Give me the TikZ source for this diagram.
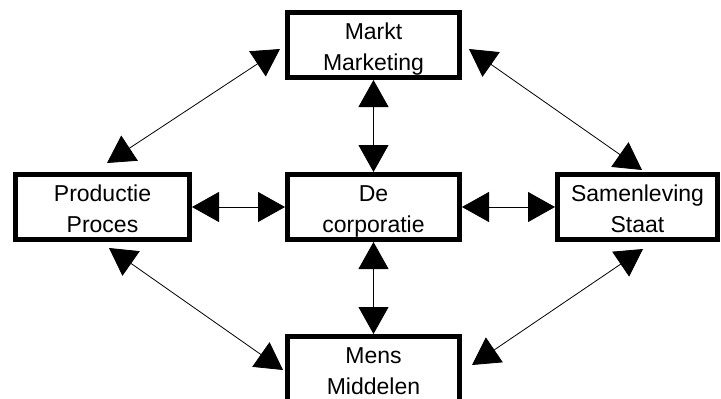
\documentclass[tikz,border=0pt]{standalone}
\usepackage{fontspec}
\setmainfont{Liberation Sans}
\usetikzlibrary{arrows.meta}

\begin{document}
\begin{tikzpicture}[x=1pt,y=-1pt,
  box/.style={draw=black,line width=5pt,fill=white,minimum width=172pt,minimum height=65pt,inner sep=0pt,align=center,font=\fontsize{23}{31}\selectfont,text height=51pt,text depth=0pt},
  link/.style={line width=0.8pt,{Triangle[length=27pt,width=30pt]}-{Triangle[length=27pt,width=30pt]}}]
\useasboundingbox (0,0) rectangle (721,399);
\clip (0,0) rectangle (721,399);
% the five boxes
\node[box] (markt) at (373.5,45) {Markt\\Marketing};
\node[box,minimum width=174pt] (productie) at (102.5,207) {Productie\\Proces};
\node[box] (corporatie) at (373.5,207) {De\\corporatie};
\node[box,minimum width=160pt] (samenleving) at (637.5,207) {Samenleving\\Staat};
\node[box] (mens) at (373.5,369) {Mens\\Middelen};
% straight links
\draw[link] (markt.south) -- (corporatie.north);
\draw[link] (corporatie.south) -- (mens.north);
\draw[link] (productie.east) -- (corporatie.west);
\draw[link] (corporatie.east) -- (samenleving.west);
% diagonal links
\draw[link] ([shift={(4.5,-9)}]productie.north) -- ([shift={(-5,4)}]markt.west);
\draw[link] ([shift={(7,4)}]markt.east) -- ([shift={(4.5,-2)}]samenleving.north);
\draw[link] ([shift={(6.5,6)}]productie.south) -- ([shift={(-2,1)}]mens.west);
\draw[link] ([shift={(5.5,7)}]samenleving.south) -- ([shift={(10,-4)}]mens.east);
\end{tikzpicture}
\end{document}
